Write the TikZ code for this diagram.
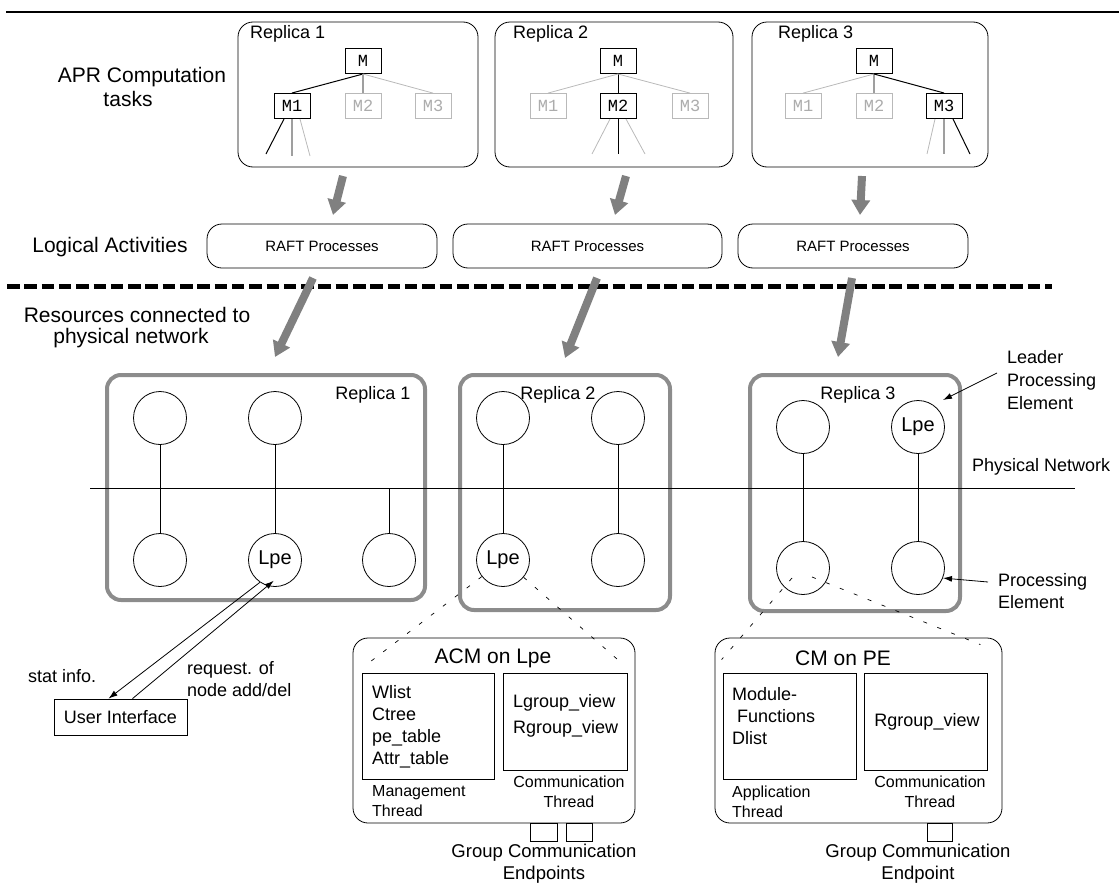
\documentclass[tikz,border=0pt]{standalone}
\usepackage{fontspec}
\setmainfont{Liberation Sans}
\newfontfamily\codefont{Liberation Mono}
\usetikzlibrary{arrows.meta,calc}
\begin{document}
\begin{tikzpicture}[x=1pt,y=-1pt,
  fs/.style={font=\fontsize{#1}{#1}\selectfont},
  txt/.style={inner sep=0pt, font=\fontsize{18}{22}\selectfont},
  bigtxt/.style={inner sep=0pt, font=\fontsize{21}{23}\selectfont},
  smalltxt/.style={inner sep=0pt, font=\fontsize{16}{20}\selectfont},
  taskbox/.style={draw, rounded corners=15pt, line width=0.8pt, inner sep=0pt},
  mbox/.style={draw, line width=1pt, minimum width=36pt, minimum height=25pt, inner sep=0pt, font=\codefont\fontsize{17}{17}\selectfont},
  mghost/.style={mbox, draw=gray!55, text=gray!65, line width=0.8pt},
  live/.style={line width=1pt},
  ghost/.style={draw=gray!55, line width=0.8pt},
  midgray/.style={draw=gray!75, line width=1.3pt},
  fatarrow/.style={line width=8pt, draw=black!50, -{Triangle[width=18pt,length=15pt]}},
  pbox/.style={draw=black!45, line width=4pt, rounded corners=14pt, inner sep=0pt},
  pe/.style={circle, draw, line width=0.8pt, minimum size=53pt, inner sep=0pt, font=\fontsize{20}{20}\selectfont},
  sparse/.style={line width=0.7pt, dash pattern=on 4pt off 11pt},
  thin/.style={line width=0.8pt},
  tip/.style={-{Latex[length=9pt,width=6pt]}},
  cmbox/.style={draw, rounded corners=15pt, line width=0.8pt, inner sep=0pt},
  inbox/.style={draw, line width=0.8pt, inner sep=0pt},
  endpt/.style={draw, line width=0.8pt, minimum height=18pt, inner sep=0pt}
]
\useasboundingbox (0,0) rectangle (1119,886);

% top rule
\draw[line width=2pt] (6,12) -- (1119,12);

% ---------- computation tasks ----------
\node[bigtxt] (aprA) at (142,77) {APR Computation};
\node[bigtxt] (aprB) at (128,99) {tasks};

\node[taskbox, minimum width=240pt, minimum height=145pt] (t1) at (358,94.5) {};
\node[taskbox, minimum width=238pt, minimum height=145pt] (t2) at (614,94.5) {};
\node[taskbox, minimum width=236pt, minimum height=145pt] (t3) at (870,94.5) {};
\node[txt, anchor=west] (t1l) at (250,34) {Replica 1};
\node[txt, anchor=west] (t2l) at (513,34) {Replica 2};
\node[txt, anchor=west] (t3l) at (778,34) {Replica 3};

% replica 1 tree
\node[mbox] (m10) at (363,61) {M};
\node[mbox] (m11) at (292,106) {M1};
\node[mghost] (m12) at (363,106) {M2};
\node[mghost] (m13) at (433,106) {M3};
\draw[live] (m10.south) -- (m11.north);
\draw[midgray] (m10.south) -- (m12.north);
\draw[ghost] (m10.south) -- (m13.north);
\draw[live] ([xshift=-8pt]m11.south) -- ++(-18,35);
\draw[midgray] (m11.south) -- ++(0,37);
\draw[ghost] ([xshift=8pt]m11.south) -- ++(10,37);

% replica 2 tree
\node[mbox] (m20) at (618,61) {M};
\node[mghost] (m21) at (548,106) {M1};
\node[mbox] (m22) at (618,106) {M2};
\node[mghost] (m23) at (690,106) {M3};
\draw[ghost] (m20.south) -- (m21.north);
\draw[live] (m20.south) -- (m22.north);
\draw[ghost] (m20.south) -- (m23.north);
\draw[ghost] ([xshift=-8pt]m22.south) -- ++(-18,35);
\draw[live] (m22.south) -- ++(0,35);
\draw[ghost] ([xshift=8pt]m22.south) -- ++(19,35);

% replica 3 tree
\node[mbox] (m30) at (874,61) {M};
\node[mghost] (m31) at (803,106) {M1};
\node[mghost] (m32) at (874,106) {M2};
\node[mbox] (m33) at (944,106) {M3};
\draw[ghost] (m30.south) -- (m31.north);
\draw[midgray] (m30.south) -- (m32.north);
\draw[live] (m30.south) -- (m33.north);
\draw[ghost] ([xshift=-9pt]m33.south) -- ++(-8,35);
\draw[midgray] (m33.south) -- ++(0,35);
\draw[live] ([xshift=9pt]m33.south) -- ++(17,35);

% ---------- logical activities ----------
\node[bigtxt] (logic) at (110,247) {Logical Activities};
\node[taskbox, minimum width=230pt, minimum height=44pt, fs=15] (r1) at (322,246) {RAFT Processes};
\node[taskbox, minimum width=269pt, minimum height=44pt, fs=15] (r2) at (587.5,246) {RAFT Processes};
\node[taskbox, minimum width=230pt, minimum height=44pt, fs=15] (r3) at (853,246) {RAFT Processes};

% arrows from tasks to processes
\coordinate (a1s) at (343,176);
\coordinate (a1e) at (333,215);
\coordinate (a2s) at (626,176);
\coordinate (a2e) at (615,215);
\coordinate (a3s) at (862,176);
\coordinate (a3e) at (860,215);
\draw[fatarrow] (a1s) -- (a1e);
\draw[fatarrow] (a2s) -- (a2e);
\draw[fatarrow] (a3s) -- (a3e);

% logical / physical separator
\draw[line width=5pt, dash pattern=on 12.5pt off 4.8pt] (7,286) -- (1052,286);

\node[bigtxt] (resA) at (137,315) {Resources connected to};
\node[bigtxt] (resB) at (131,338) {physical network};

% arrows from processes to resources
\coordinate (b1s) at (313,278);
\coordinate (b1e) at (275,357);
\coordinate (b2s) at (597,278);
\coordinate (b2e) at (565,358);
\coordinate (b3s) at (852,278);
\coordinate (b3e) at (838,357);
\draw[fatarrow] (b1s) -- (b1e);
\draw[fatarrow] (b2s) -- (b2e);
\draw[fatarrow] (b3s) -- (b3e);

% ---------- physical resources ----------
\node[pbox, minimum width=318pt, minimum height=225pt] (p1) at (266,487.5) {};
\node[pbox, minimum width=210pt, minimum height=235pt] (p2) at (565,492.5) {};
\node[pbox, minimum width=210pt, minimum height=236pt] (p3) at (855,493) {};

\coordinate (netL) at (90,488);
\coordinate (netR) at (1075,488);
\draw[thin] (netL) -- (netR);
\node[txt, anchor=west] (netlbl) at (972,467) {Physical Network};

\node[pe] (c11) at (160,418) {};
\node[pe] (c12) at (275,418) {};
\node[pe] (c13) at (160,560) {};
\node[pe] (c14) at (275,560) {Lpe};
\node[pe] (c15) at (389,560) {};
\draw[thin] (c11) -- (c13);
\draw[thin] (c12) -- (c14);
\draw[thin] (c15.north) -- (c15.north |- netL);
\node[txt] (p1l) at (373,395) {Replica 1};

\node[pe] (c21) at (503,418) {};
\node[pe] (c22) at (618,418) {};
\node[pe] (c23) at (503,560) {Lpe};
\node[pe] (c24) at (618,560) {};
\draw[thin] (c21) -- (c23);
\draw[thin] (c22) -- (c24);
\node[txt] (p2l) at (558,395) {Replica 2};

\node[pe] (c31) at (803,427) {};
\node[pe] (c32) at (918,427) {Lpe};
\node[pe] (c33) at (803,568) {};
\node[pe] (c34) at (918,568) {};
\draw[thin] (c31) -- (c33);
\draw[thin] (c32) -- (c34);
\node[txt] (p3l) at (858,395) {Replica 3};

% callouts
\node[txt, anchor=west, align=left, font=\fontsize{18}{23}\selectfont] (leader) at (1007,380) {Leader\\Processing\\Element};
\coordinate (leadTail) at (997,373);
\coordinate (leadTip) at (943,400);
\draw[thin, tip] (leadTail) -- (leadTip);
\node[txt, anchor=west, align=left, font=\fontsize{18}{22}\selectfont] (pelbl) at (998,591) {Processing\\Element};
\coordinate (peTail) at (988,582);
\draw[thin, tip] (peTail) -- (c34.-22);

% ---------- user interface ----------
\node[draw, thin, minimum width=133pt, minimum height=36pt, inner sep=0pt, fs=18] (ui) at (120.5,717) {User Interface};
\node[txt, anchor=west] (stat) at (28,676) {stat info.};
\node[txt, anchor=west, align=left] (req) at (187,679) {request. of\\node add/del};
\draw[thin, tip] (c14.236) -- ([xshift=-12pt]ui.north);
\draw[thin, tip, shorten >=-8pt] ([xshift=12pt]ui.north) -- (c14.254);

% ---------- ACM on Lpe ----------
\node[cmbox, minimum width=282pt, minimum height=185pt] (acm) at (494,730.5) {};
\node[inner sep=0pt, fs=21] (acmT) at (493,658) {ACM on Lpe};
\node[inbox, minimum width=132pt, minimum height=106pt] (mgmt) at (428,726) {};
\node[inbox, minimum width=124pt, minimum height=97pt] (comm1) at (565,721.5) {};
\node[txt, anchor=west, align=left] (mgmtT) at (372,727) {Wlist\\Ctree\\pe\_table\\Attr\_table};
\node[txt, anchor=west] (lg) at (513,703) {Lgroup\_view};
\node[txt, anchor=west] (rg) at (513,729) {Rgroup\_view};
\node[smalltxt, anchor=west, align=left] (mgmtL) at (372,801.5) {Management\\Thread};
\node[smalltxt, align=center] (comm1L) at (569,792) {Communication\\Thread};
\node[endpt, minimum width=27pt] (e1) at (543.5,832) {};
\node[endpt, minimum width=26pt] (e2) at (579,832) {};
\node[inner sep=0pt, align=center, font=\fontsize{18.5}{22}\selectfont] (e12L) at (544,864) {Group Communication\\Endpoints};

\draw[sparse] (c23.218) -- ([shift={(10,30)}]acm.north west);
\draw[sparse] (c23.320) -- ([shift={(-12,27)}]acm.north east);

% ---------- CM on PE ----------
\node[cmbox, minimum width=287pt, minimum height=185pt] (cm) at (858.5,730.5) {};
\node[inner sep=0pt, fs=21] (cmT) at (843,658) {CM on PE};
\node[inbox, minimum width=133pt, minimum height=106pt] (app) at (789.5,726) {};
\node[inbox, minimum width=123pt, minimum height=97pt] (comm2) at (925.5,721.5) {};
\node[txt, anchor=west, align=left] (appT) at (732,716) {Module-\\\hspace{5pt}Functions\\Dlist};
\node[txt] (rg2) at (927,722) {Rgroup\_view};
\node[smalltxt, anchor=west, align=left] (appL) at (732,801.5) {Application\\Thread};
\node[smalltxt, align=center] (comm2L) at (930,792) {Communication\\Thread};
\node[endpt, minimum width=25pt] (e3) at (939.5,832) {};
\node[inner sep=0pt, align=center, font=\fontsize{18.5}{22}\selectfont] (e3L) at (918,864) {Group Communication\\Endpoint};

\draw[sparse] ([shift={(-11,10)}]c33.center) -- ([shift={(7,22)}]cm.north west);
\draw[sparse] ([shift={(9,9)}]c33.center) -- ([shift={(-22,7)}]cm.north east);
\end{tikzpicture}
\end{document}
